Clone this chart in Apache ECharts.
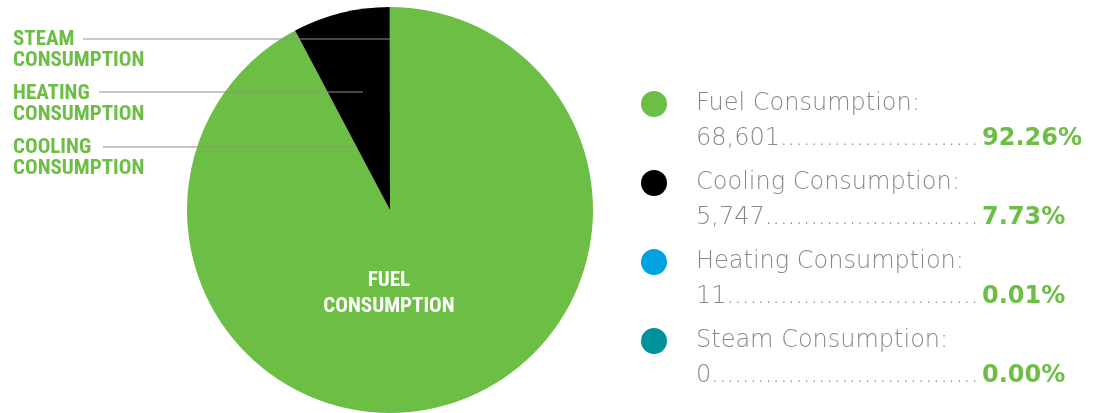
<!DOCTYPE html>
<html>
<head>
<meta charset="utf-8">
<script src="https://cdn.jsdelivr.net/npm/echarts@6/dist/echarts.min.js"></script>
<style>
  html, body { margin: 0; padding: 0; background: #fff; }
  #main { width: 1100px; height: 413px; }
</style>
</head>
<body>
<div id="main"></div>
<script>
  var names = ['Fuel Consumption', 'Cooling Consumption', 'Heating Consumption', 'Steam Consumption'];
  var values = [68601, 5747, 11, 0];
  var colors = ['#6cbe45', '#000000', '#00a3e0', '#00929a'];
  var pieLabels = ['FUEL\nCONSUMPTION', 'COOLING\nCONSUMPTION', 'HEATING\nCONSUMPTION', 'STEAM\nCONSUMPTION'];

  var total = values.reduce(function (a, b) { return a + b; }, 0);
  var pcts = values.map(function (v) { return (v / total * 100).toFixed(2) + '%'; });

  // pie geometry
  var cx = 390, cy = 210, r = 203;
  var condFont = '"Roboto Condensed", Roboto, sans-serif';
  var legFont = '"DejaVu Sans", sans-serif';

  // left side call-outs: [label center y, line y, line start x, line end x]
  var callouts = {
    1: [158, 147, 103, 355],
    2: [104, 92, 99, 363],
    3: [50, 39, 83, 390]
  };

  var ctx = document.createElement('canvas').getContext('2d');
  function textWidth(s, font) {
    ctx.font = font;
    return ctx.measureText(s).width;
  }
  function leader(prefix, width, font) {
    var s = prefix;
    while (textWidth(s + '.', font) <= width) s += '.';
    return s;
  }

  var legendTextW = 286;
  var valFont = '300 24px "DejaVu Sans"';

  var guideLines = [1, 2, 3].map(function (i) {
    var c = callouts[i];
    return {
      type: 'line',
      z: 100,
      silent: true,
      shape: {x1: c[2], y1: c[1], x2: c[3], y2: c[1]},
      style: {stroke: '#909090', lineWidth: 1}
    };
  });

  var myChart = echarts.init(document.getElementById('main'));
  var option = {
    animation: false,
    color: colors,
    graphic: guideLines,
    legend: {
      orient: 'vertical',
      left: 641,
      top: 64,
      padding: 0,
      itemWidth: 74,
      itemHeight: 26,
      itemGap: -8,
      icon: 'circle',
      selectedMode: false,
      data: names,
      formatter: function (name) {
        var i = names.indexOf(name);
        var v = leader(echarts.format.addCommas(values[i]), legendTextW, valFont);
        return '{b| }\n{n|' + name + ':}\n{v|' + v + '}{p|' + pcts[i] + '}';
      },
      textStyle: {
        rich: {
          b: {fontSize: 10, lineHeight: 35},
          n: {fontFamily: legFont, fontWeight: 300, fontSize: 24, color: '#888', lineHeight: 35},
          v: {fontFamily: legFont, fontWeight: 300, fontSize: 24, color: '#888', lineHeight: 35, width: legendTextW},
          p: {fontFamily: legFont, fontWeight: 'bold', fontSize: 24, color: '#6cbe45', lineHeight: 35}
        }
      }
    },
    series: [
      {
        type: 'pie',
        center: [cx, cy],
        radius: r,
        startAngle: 90,
        clockwise: true,
        avoidLabelOverlap: false,
        silent: true,
        data: names.map(function (n, i) {
          var d = {name: n, value: values[i]};
          if (i === 0) {
            d.label = {position: 'inside', color: '#fff', lineHeight: 26};
          }
          return d;
        }),
        label: {
          show: true,
          formatter: function (p) { return pieLabels[p.dataIndex]; },
          fontFamily: condFont,
          fontWeight: 'bold',
          fontSize: 21,
          lineHeight: 21.5,
          color: '#6cbe45'
        },
        labelLine: {show: false},
        labelLayout: function (params) {
          var i = params.dataIndex;
          if (i === 0) {
            return {x: cx - 1, y: cy + 84, align: 'center', verticalAlign: 'middle'};
          }
          return {x: 13, y: callouts[i][0], align: 'left', verticalAlign: 'middle'};
        }
      }
    ]
  };
  myChart.setOption(option, true);
</script>
</body>
</html>
